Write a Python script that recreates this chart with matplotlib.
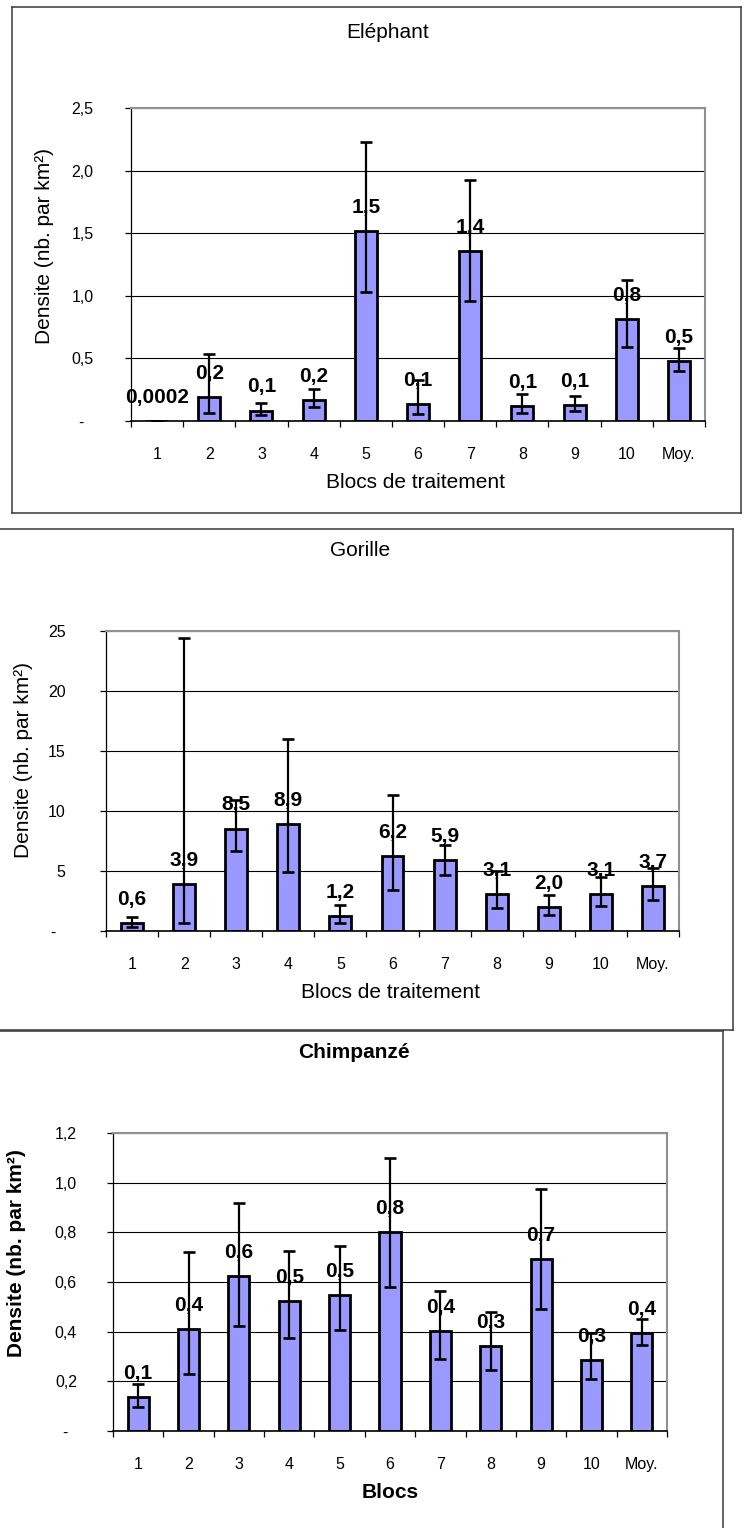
import matplotlib
matplotlib.use("Agg")
import matplotlib.pyplot as plt
from matplotlib.lines import Line2D
import numpy as np

plt.rcParams['font.family'] = ['Liberation Sans', 'DejaVu Sans']

blocs = ['1', '2', '3', '4', '5', '6', '7', '8', '9', '10', 'Moy.']

# Eléphant
eleph_val = [0.0002, 0.19, 0.083, 0.168, 1.519, 0.133, 1.354, 0.12, 0.128, 0.816, 0.482]
eleph_lo = [0.0001, 0.067, 0.045, 0.112, 1.031, 0.053, 0.957, 0.061, 0.083, 0.589, 0.402]
eleph_hi = [0.0004, 0.533, 0.14, 0.256, 2.225, 0.328, 1.922, 0.219, 0.2, 1.125, 0.581]

# Gorille
gor_val = [0.64, 3.94, 8.54, 8.89, 1.24, 6.24, 5.89, 3.11, 2.0, 3.11, 3.73]
gor_lo = [0.33, 0.64, 6.7, 4.9, 0.7, 3.44, 4.7, 1.9, 1.3, 2.1, 2.55]
gor_hi = [1.17, 24.4, 10.9, 16.0, 2.2, 11.3, 7.2, 5.0, 3.0, 4.5, 5.25]

# Chimpanzé
chimp_val = [0.136, 0.409, 0.623, 0.522, 0.549, 0.8, 0.404, 0.341, 0.694, 0.286, 0.395]
chimp_lo = [0.097, 0.231, 0.421, 0.376, 0.405, 0.58, 0.289, 0.244, 0.491, 0.209, 0.346]
chimp_hi = [0.188, 0.722, 0.918, 0.725, 0.744, 1.1, 0.562, 0.479, 0.975, 0.395, 0.451]

W, H = 747, 1528
fig = plt.figure(figsize=(W / 100, H / 100), dpi=100)


def fx(x):
    return x / W


def fy(y):
    return 1 - y / H


def frame(l, t, r, b):
    for xs, ys in [([l, r], [t, t]), ([l, r], [b, b]), ([l, l], [t, b]), ([r, r], [t, b])]:
        fig.add_artist(Line2D([fx(v) for v in xs], [fy(v) for v in ys],
                              color='#3a3a3a', lw=1.1))


def fmt_num(v, dec):
    if v == 0:
        return '-  '
    return f"{v:.{dec}f}".replace('.', ',')


def panel(box, vals, lo, hi, ymax, ystep, ydec, title, xlabel, bold,
          title_xy, xlabel_xy, ylabel_xy, ypad):
    l, t, r, b = box
    ax = fig.add_axes([fx(l), fy(b), (r - l) / W, (b - t) / H])
    x = np.arange(len(blocs))
    vals = np.array(vals)
    err = [vals - np.array(lo), np.array(hi) - vals]
    ax.set_axisbelow(True)
    ax.bar(x, vals, width=0.42, color='#9999FF', edgecolor='black', linewidth=2.0, zorder=2)
    ax.errorbar(x, vals, yerr=err, fmt='none', ecolor='black', elinewidth=1.6,
                capsize=4.5, capthick=1.9, zorder=3)
    for xi, v in zip(x, vals):
        lab = f"{v:.4f}" if v < 0.01 else f"{v:.1f}"
        ax.annotate(lab.replace('.', ','), (xi, v), xytext=(0, 17), textcoords='offset points',
                    ha='center', va='center', fontsize=15, fontweight='bold', zorder=4)
    ax.set_xlim(-0.5, len(blocs) - 0.5)
    ax.set_ylim(0, ymax)
    yt = np.arange(0, ymax + ystep / 2, ystep)
    ax.set_yticks(yt)
    ax.set_yticklabels([fmt_num(v, ydec) for v in yt])
    ax.yaxis.grid(True, color='black', linewidth=0.8)
    ax.set_xticks(x)
    ax.set_xticklabels(blocs)
    ax.set_xticks(np.arange(-0.5, len(blocs)), minor=True)
    ax.tick_params(axis='x', which='major', length=0, pad=19, labelsize=11.5)
    ax.tick_params(axis='x', which='minor', length=4, width=0.9, direction='out')
    ax.tick_params(axis='y', length=4, width=0.9, direction='out', pad=ypad, labelsize=11.5)
    for s in ['top', 'right']:
        ax.spines[s].set_color('#909090')
        ax.spines[s].set_linewidth(1.5)
    ax.spines['left'].set_linewidth(0.9)
    ax.spines['bottom'].set_linewidth(1.2)
    w = 'bold' if bold else 'normal'
    fig.text(fx(title_xy[0]), fy(title_xy[1]), title, ha='center', va='center',
             fontsize=15, fontweight=w)
    fig.text(fx(xlabel_xy[0]), fy(xlabel_xy[1]), xlabel, ha='center', va='center',
             fontsize=15, fontweight=w)
    fig.text(fx(ylabel_xy[0]), fy(ylabel_xy[1]), 'Densite (nb. par km²)', ha='center',
             va='center', rotation=90, fontsize=15, fontweight=w)
    return ax


frame(12, 7, 741, 512.5)
frame(-5, 529, 733, 1030)
frame(-5, 1031, 723, 1540)

panel((131, 108, 705, 421), eleph_val, eleph_lo, eleph_hi, 2.5, 0.5, 1,
      'Eléphant', 'Blocs de traitement', False,
      (388, 33), (415, 482), (45, 246), 23)
panel((106, 631, 679, 931), gor_val, gor_lo, gor_hi, 25, 5, 0,
      'Gorille', 'Blocs de traitement', False,
      (360, 550), (390, 992), (24, 760), 25)
panel((113, 1133, 667, 1431), chimp_val, chimp_lo, chimp_hi, 1.2, 0.2, 1,
      'Chimpanzé', 'Blocs', True,
      (354, 1052), (390, 1492), (17, 1253), 22)

fig.savefig('out.png', dpi=100)
